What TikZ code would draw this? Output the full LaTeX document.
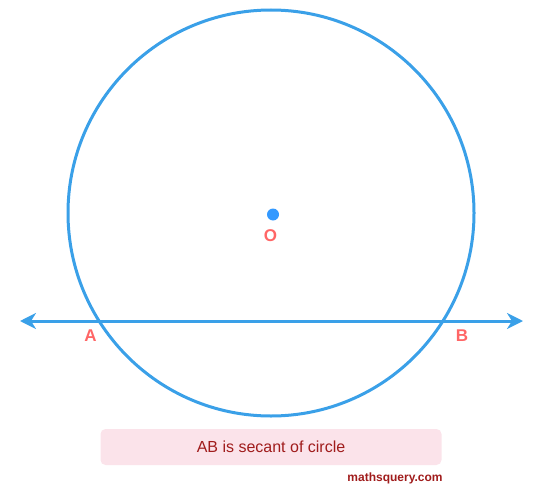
\documentclass[tikz,border=0pt]{standalone}
\usepackage{fontspec}
\setmainfont{Liberation Sans}
\usetikzlibrary{arrows.meta}
\definecolor{cblue}{HTML}{3AA0E8}
\definecolor{dotblue}{HTML}{3399FF}
\definecolor{lred}{HTML}{FF6666}
\definecolor{boxpink}{HTML}{FBE3EA}
\definecolor{dred}{HTML}{A01C1C}
\tikzset{
  curve/.style={draw=cblue, line width=3pt},
  ptlabel/.style={text=lred, font=\bfseries\fontsize{17}{19}\selectfont, inner sep=0pt},
  tip/.style={Stealth[length=16pt,width=16pt,inset=5pt]},
}
\begin{document}
\begin{tikzpicture}[x=1pt,y=-1pt]
\useasboundingbox (0,0) rectangle (545,500);
\coordinate (O) at (271,213);
\draw[curve] (O) circle (203);
\fill[dotblue] (273,214.5) circle (6);
\node[ptlabel] (lo) at (270.5,235.5) {O};
\coordinate (L) at (20,321);
\coordinate (R) at (523,321);
\draw[curve, {Stealth[length=16pt,width=16pt,inset=5pt]}-{Stealth[length=16pt,width=16pt,inset=5pt]}] (L) -- (R);
\node[ptlabel] (la) at (90.5,335.5) {A};
\node[ptlabel] (lb) at (462,336) {B};
\node[fill=boxpink, rounded corners=5pt, minimum width=341pt, minimum height=36pt, inner sep=0pt, text=dred, font=\fontsize{16}{19}\selectfont] (cap) at (271,447) {AB is secant of circle};
\node[text=dred, font=\bfseries\fontsize{12}{14}\selectfont, inner sep=0pt] (site) at (395,478) {mathsquery.com};
\end{tikzpicture}
\end{document}
